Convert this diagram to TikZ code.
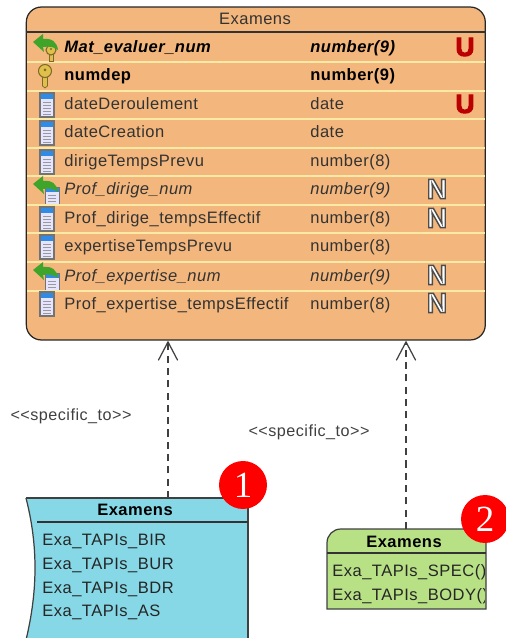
\documentclass[tikz,border=0pt]{standalone}
\usepackage{fontspec}
\usepackage{graphicx, xcolor}
\setmainfont[LetterSpace=3]{Liberation Sans}
\newfontfamily\badgefont{Liberation Serif}
\usetikzlibrary{arrows.meta}

\definecolor{tablefill}{HTML}{F3B67C}
\definecolor{rowline}{HTML}{FBE9A6}
\definecolor{packagefill}{HTML}{86D8E6}
\definecolor{triggerfill}{HTML}{B8E186}
\definecolor{columnblue}{HTML}{2F8BE6}
\definecolor{fkgreen}{HTML}{3FA52A}
\definecolor{keygold}{HTML}{E0C04A}

\newcommand{\rowfont}{\fontsize{9.4}{11}\selectfont}

\tikzset{
    rowtext/.style={anchor=base west, inner sep=0pt, text=black!80, font=\rowfont},
    boldtext/.style={rowtext, text=black, font=\rowfont\bfseries},
    itemtext/.style={rowtext, text=black!85},
    headtext/.style={inner sep=0pt, text=black, font=\rowfont\bfseries},
    deplabel/.style={inner sep=0pt, text=black!75, font=\fontsize{9.2}{11}\selectfont},
    dep/.style={dash pattern=on 4pt off 3pt, draw=black!75, line width=0.7pt, -{Straight Barb[length=10.5pt, width=11pt, line width=0.7pt]}},
    badge/.style={circle, fill=red, text=white, inner sep=0pt, minimum size=27.3pt, font=\fontsize{21}{24}\selectfont\badgefont},
    uicon/.style={inner sep=0pt, text=red!75!black, font=\fontsize{15}{15}\selectfont\bfseries},
    nicon/.style={inner sep=0pt, font=\fontsize{16}{16}\selectfont\bfseries},
    pics/columnicon/.style={code={
        \fill[white!90!blue] (-7,-12) rectangle (7,12);
        \fill[columnblue] (-7,-12) rectangle (7,-6);
        \draw[black!55, line width=0.6pt] (-7,-12) rectangle (7,12);
        \foreach \r in {-3,0,3,6,9}
        {
            \draw[black!40, line width=0.4pt] (-4,\r) -- (4,\r);
        }
    }},
    pics/columnstub/.style={code={
        \fill[white!90!blue] (-7,-9) rectangle (7,8);
        \fill[columnblue] (-7,-9) rectangle (7,-4);
        \draw[black!55, line width=0.4pt] (-7,8) -- (-7,-9) -- (7,-9) -- (7,8);
        \foreach \r in {-1,2,5}
        {
            \draw[black!40, line width=0.4pt] (-4,\r) -- (4,\r);
        }
    }},
    pics/keyicon/.style={code={
        \draw[black!45!keygold, fill=keygold, line width=0.4pt] (-2.5,-2) -- (-2.5,10) -- (0,12) -- (2.5,10) -- (2.5,-2);
        \draw[black!45!keygold, fill=keygold, line width=0.6pt] (0,-5) circle (6.5);
        \fill[black!45!keygold] (0,-6) circle (1.5);
    }},
    pics/keystub/.style={code={
        \draw[black!45!keygold, fill=keygold, line width=0.4pt] (-2,0) -- (-2,8) -- (2,8) -- (2,0);
        \draw[black!45!keygold, fill=keygold, line width=0.6pt] (0,-3) circle (5);
        \fill[black!45!keygold] (0,-4) circle (1.2);
    }},
    pics/fkarrow/.style={code={
        \fill[fkgreen] (-17,1) -- (-7,-7) -- (-7,-2) .. controls (2,-3) and (7,1) .. (8,9) .. controls (4,6) and (0,5) .. (-7,6) -- (-6,11) -- cycle;
    }},
}

\begin{document}
\begin{tikzpicture}[x=0.02cm, y=-0.02cm]
    \useasboundingbox (0,0) rectangle (505,638);

    %main table
    \node (examens) [draw=black!85, fill=tablefill, line width=0.7pt, rounded corners=0.3cm, minimum width=9.18cm, minimum height=6.66cm, inner sep=0pt] at (255.8,173.5) {};
    \node (examenstitle) [inner sep=0pt, text=black!80, font=\rowfont] at (255,19) {Examens};
    \draw[black!80, line width=0.7pt] (examens.west |- 0,32) -- (examens.east |- 0,32);
    \foreach \y in {62,91,119,148,176,205,233,262,291}
    {
        \draw[rowline, line width=0.9pt] (27,\y) -- (485,\y);
    }

    %rows
    \foreach \y/\name/\kind [count=\i] in {
        104/dateDeroulement/date,
        132/dateCreation/date,
        161/dirigeTempsPrevu/number(8),
        246/expertiseTempsPrevu/number(8)}
    {
        \pic at (47,\y+1) {columnicon};
        \node (colname\i) [rowtext] at (64,\y+6) {\name};
        \node (coltype\i) [rowtext] at (310,\y+6) {\kind};
    }
    \foreach \y/\name [count=\i] in {
        218/Prof\_dirige\_tempsEffectif,
        303/Prof\_expertise\_tempsEffectif}
    {
        \pic at (47,\y+1) {columnicon};
        \node (profname\i) [rowtext] at (64,\y+6) {\name};
        \node (proftype\i) [rowtext] at (310,\y+6) {number(8)};
    }
    \foreach \y/\name [count=\i] in {
        189/Prof\_dirige\_num,
        275/Prof\_expertise\_num}
    {
        \pic at (52,\y+7) {columnstub};
        \pic at (50,\y-6) {fkarrow};
        \node (fkname\i) [rowtext, font=\rowfont\itshape] at (64,\y+6) {\name};
        \node (fktype\i) [rowtext, font=\rowfont\itshape] at (310,\y+6) {number(9)};
    }

    \pic at (51,53) {keystub};
    \pic at (50,41) {fkarrow};
    \node (matname) [boldtext, font=\rowfont\bfseries\itshape] at (64,53) {Mat\_evaluer\_num};
    \node (mattype) [boldtext, font=\rowfont\bfseries\itshape] at (310,53) {number(9)};
    \pic at (45,76) {keyicon};
    \node (depname) [boldtext] at (64,81) {numdep};
    \node (deptype) [boldtext] at (310,81) {number(9)};

    \node (umat) [uicon] at (465,47) {\special{pdf: code q 2 Tr 0.6 w 0.73 0 0 rg 0.73 0 0 RG}U\special{pdf: code Q}};
    \node (udate) [uicon] at (465,104) {\special{pdf: code q 2 Tr 0.6 w 0.73 0 0 rg 0.73 0 0 RG}U\special{pdf: code Q}};
    \foreach \y [count=\i] in {189,218,275,303}
    {
        \node (null\i) [nicon] at (437,\y) {\special{pdf: code q 2 Tr 0.8 w 1 1 1 rg 0.3 0.3 0.3 RG}N\special{pdf: code Q}};
    }

    %package
    \fill[packagefill] (26,498) .. controls (38,545) and (38,590) .. (26,640) -- (248,640) -- (248,498) -- cycle;
    \draw[black!75, line width=0.7pt] (26,498) .. controls (38,545) and (38,590) .. (26,640);
    \draw[black!75, line width=0.7pt] (26,498) -- (248,498) -- (248,640);
    \draw[black!80, line width=0.7pt] (37,522) -- (248,522);
    \coordinate (packagetop) at (168,498);
    \node (packagehead) [headtext] at (135,510) {Examens};
    \foreach \y/\name [count=\i] in {
        545/BIR, 569/BUR, 593/BDR, 616/AS}
    {
        \node (item\i) [itemtext] at (42,\y) {Exa\_TAPIs\_\name};
    }

    %trigger
    \draw[black!75, fill=triggerfill, line width=0.7pt] (327,609) -- (327,543) .. controls (327,535) and (333,529) .. (341,529) -- (486,529) -- (486,609) -- cycle;
    \draw[black!80, line width=0.7pt] (327,553) -- (486,553);
    \coordinate (triggertop) at (406,529);
    \node (triggerhead) [headtext] at (404,542) {Examens};
    \begin{scope}
        \clip (327,553) rectangle (484,609);
        \node (spec) [itemtext] at (332,576) {Exa\_TAPIs\_SPEC()};
        \node (body) [itemtext] at (332,600) {Exa\_TAPIs\_BODY()};
    \end{scope}

    %dependencies
    \draw[dep] (packagetop) -- (packagetop |- examens.south);
    \draw[dep] (triggertop) -- (triggertop |- examens.south);
    \node (label1) [deplabel] at (71,416) {<{}<specific\_to>{}>};
    \node (label2) [deplabel] at (309,432) {<{}<specific\_to>{}>};

    %numbers
    \node (badge1) [badge] at (243,485) {1};
    \node (badge2) [badge] at (485,519) {2};
\end{tikzpicture}
\end{document}
